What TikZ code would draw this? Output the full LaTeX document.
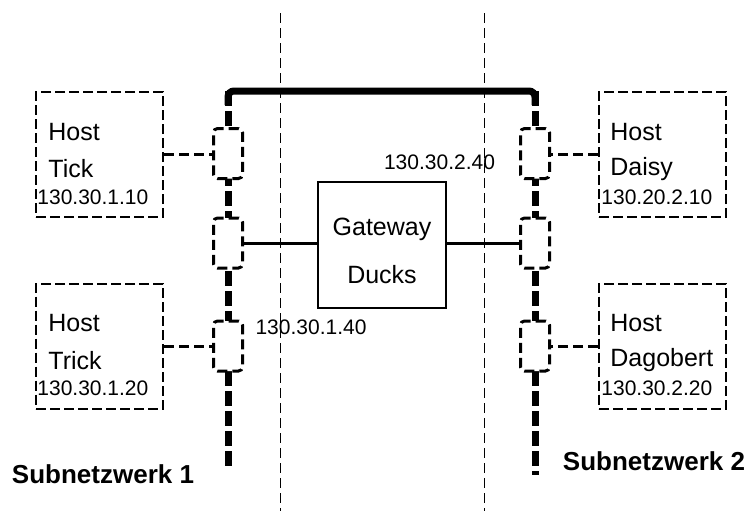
\documentclass[tikz,border=0pt]{standalone}
\usepackage{fontspec}
\setmainfont{Liberation Sans}
\usetikzlibrary{calc}

\begin{document}
\begin{tikzpicture}[x=0.5pt, y=-0.5pt,
  host/.style={draw, line width=1pt, dash pattern=on 5pt off 2pt,
               minimum width=63.5pt, minimum height=62.5pt, inner sep=0pt},
  trx/.style={draw, fill=white, rounded corners=2pt, line width=1.5pt,
              dash pattern=on 5pt off 2.5pt, minimum width=14.5pt,
              minimum height=25pt, inner sep=0pt},
  gate/.style={draw, line width=0.75pt, minimum width=64pt, minimum height=63pt},
  gatetxt/.style={align=center, inner sep=0pt, font=\fontsize{12.5}{24}\selectfont},
  bigtxt/.style={inner sep=0pt, anchor=west, font=\fontsize{12.5}{15}\selectfont},
  iptxt/.style={inner sep=0pt, anchor=west, font=\fontsize{10.5}{12.6}\selectfont},
  subtxt/.style={inner sep=0pt, font=\fontsize{13}{15}\selectfont\bfseries},
  bus/.style={line width=3.5pt, dash pattern=on 7.5pt off 2.5pt},
  zone/.style={line width=0.5pt, dash pattern=on 5pt off 2.5pt},
  link/.style={line width=1.5pt, dash pattern=on 5pt off 2.5pt}
]
\useasboundingbox (0,0) rectangle (751,511);

% zone borders
\coordinate (z1top) at (280,13); \coordinate (z1bot) at (280,511);
\coordinate (z2top) at (484,13); \coordinate (z2bot) at (484,511);
\draw[zone] (z1top) -- (z1bot);
\draw[zone] (z2top) -- (z2bot);

% backbone
\coordinate (ltop) at (228,91); \coordinate (lbot) at (228,471);
\coordinate (rtop) at (535,91); \coordinate (rbot) at (535,475);
\draw[line width=3.5pt, rounded corners=3pt]
  ($(ltop)+(0,14)$) -- (ltop) -- (rtop) -- ($(rtop)+(0,14)$);
\draw[bus] (ltop) -- (lbot);
\draw[bus] (rtop) -- (rbot);

% transceivers
\node[trx] (tl1) at (228,153.5) {};
\node[trx] (tl2) at (228,243) {};
\node[trx] (tl3) at (228,346) {};
\node[trx] (tr1) at (535,153.5) {};
\node[trx] (tr2) at (535,243) {};
\node[trx] (tr3) at (535,346) {};

% hosts
\node[host] (tick) at (99.5,154.5) {};
\node[host] (trick) at (99.5,346) {};
\node[host] (daisy) at (662.5,154.5) {};
\node[host] (dagobert) at (662.5,346) {};

\node[bigtxt] at ($(tick.north west)+(13,41)$) {Host};
\node[bigtxt] at ($(tick.north west)+(13,78)$) {Tick};
\node[iptxt] at ($(tick.north west)+(2,106)$) {130.30.1.10};
\node[bigtxt] at ($(trick.north west)+(13,41)$) {Host};
\node[bigtxt] at ($(trick.north west)+(13,78)$) {Trick};
\node[iptxt] at ($(trick.north west)+(2,106)$) {130.30.1.20};
\node[bigtxt] at ($(daisy.north west)+(12,41)$) {Host};
\node[bigtxt] at ($(daisy.north west)+(12,78)$) {Daisy};
\node[iptxt] at ($(daisy.north west)+(3,106)$) {130.20.2.10};
\node[bigtxt] at ($(dagobert.north west)+(12,41)$) {Host};
\node[bigtxt] at ($(dagobert.north west)+(12,78)$) {Dagobert};
\node[iptxt] at ($(dagobert.north west)+(3,106)$) {130.30.2.20};

\draw[link] (tick.east) -- (tick.east -| tl1.west);
\draw[link] (trick.east) -- (trick.east -| tl3.west);
\draw[link] (daisy.west) -- (daisy.west -| tr1.east);
\draw[link] (dagobert.west) -- (dagobert.west -| tr3.east);

% gateway
\node[gate] (gw) at (382,245) {};
\node[gatetxt] (gwname) at ($(gw)+(0,6)$) {Gateway\\Ducks};
\draw[line width=1.5pt] (tl2.east) -- (tl2.east -| gw.west);
\draw[line width=1.5pt] (tr2.west) -- (tr2.west -| gw.east);
\node[iptxt, anchor=center] (ip2) at (439.5,162) {130.30.2.40};
\node[iptxt, anchor=center] (ip1) at (311,327) {130.30.1.40};

% subnets
\node[subtxt] (sub1) at (103,474) {Subnetzwerk 1};
\node[subtxt] (sub2) at (654,461) {Subnetzwerk 2};
\end{tikzpicture}
\end{document}
